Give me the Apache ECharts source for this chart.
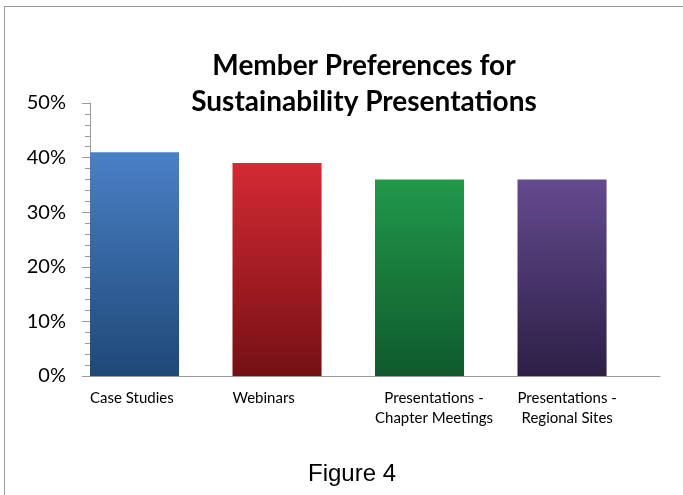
<!DOCTYPE html>
<html>
<head>
<meta charset="utf-8">
<script src="https://cdn.jsdelivr.net/npm/echarts@6/dist/echarts.min.js"></script>
<style>html,body{margin:0;padding:0;background:#fff;}#c{width:683px;height:495px;}</style>
</head>
<body>
<div id="c"></div>
<script>
var categories = ['Case Studies', 'Webinars', 'Presentations -\nChapter Meetings', 'Presentations -\nRegional Sites'];
var values = [41, 39, 36, 36];
var yTicks = [0, 10, 20, 30, 40, 50];
var barColors = [
  ['#4a80c6', '#1e4877'],
  ['#d42a33', '#741015'],
  ['#21984a', '#0f5a2c'],
  ['#644a8e', '#2d1f46']
];

var chart = echarts.init(document.getElementById('c'), null, {renderer: 'canvas'});
var labelFont = 'Lato, "Open Sans", sans-serif';
var option = {
  animation: false,
  backgroundColor: '#ffffff',
  title: [{
    text: 'Member Preferences for\nSustainability Presentations',
    left: 359, top: 43, textAlign: 'center',
    textStyle: {fontFamily: labelFont, fontWeight: 'bold', fontSize: 28, lineHeight: 36, color: '#000'}
  }, {
    text: 'Figure 4',
    left: 347, top: 457, textAlign: 'center',
    textStyle: {fontFamily: '"Liberation Sans", Arial, sans-serif', fontWeight: 'normal', fontSize: 24, color: '#000'}
  }],
  graphic: [
    {type: 'line', shape: {x1: 4.5, y1: 6, x2: 4.5, y2: 495}, style: {stroke: '#9a9a9a', lineWidth: 1}},
    {type: 'line', shape: {x1: 4, y1: 6.5, x2: 683, y2: 6.5}, style: {stroke: '#9a9a9a', lineWidth: 1}}
  ],
  grid: [
    {left: 90, right: 23, top: 103, bottom: 119},
    {left: 18.75, right: 94.25, top: 103, bottom: 119}
  ],
  xAxis: [{
    type: 'category', data: categories, gridIndex: 0,
    axisLine: {lineStyle: {color: '#9a9a9a', width: 1}},
    axisTick: {show: false},
    axisLabel: {show: false}
  }, {
    type: 'category', data: categories, gridIndex: 1,
    axisLine: {show: false}, axisTick: {show: false},
    axisLabel: {
      align: 'left', margin: 12, interval: 0,
      formatter: function (v) {
        return v.split('\n').map(function (s) { return '{c|' + s + '}'; }).join('\n');
      },
      rich: {c: {align: 'center', fontFamily: labelFont, fontSize: 15, lineHeight: 20, color: '#000'}}
    }
  }],
  yAxis: [{
    type: 'value', gridIndex: 0, min: 0, max: 50, interval: 10,
    axisLine: {show: true, lineStyle: {color: '#9a9a9a', width: 1}},
    axisTick: {show: true, length: 8, lineStyle: {color: '#9a9a9a'}},
    minorTick: {show: true, splitNumber: 5, length: 5, lineStyle: {color: '#9a9a9a'}},
    splitLine: {show: false},
    axisLabel: {
      margin: 24, fontFamily: labelFont, fontSize: 20, color: '#000',
      formatter: function (v) { return v + '%'; },
      customValues: yTicks
    }
  }, {
    type: 'value', gridIndex: 1, min: 0, max: 50, show: false
  }],
  series: [{
    type: 'bar', xAxisIndex: 0, yAxisIndex: 0,
    barWidth: '62.5%', barGap: '0%',
    data: values.map(function (v, i) {
      return {
        value: v,
        itemStyle: {
          color: new echarts.graphic.LinearGradient(0, 0, 0, 1, [
            {offset: 0, color: barColors[i][0]},
            {offset: 1, color: barColors[i][1]}
          ])
        }
      };
    })
  }, {
    type: 'bar', xAxisIndex: 0, yAxisIndex: 0,
    barWidth: '37.5%', barGap: '0%',
    data: values.map(function () { return null; }),
    silent: true
  }]
};
chart.setOption(option);
</script>
</body>
</html>
